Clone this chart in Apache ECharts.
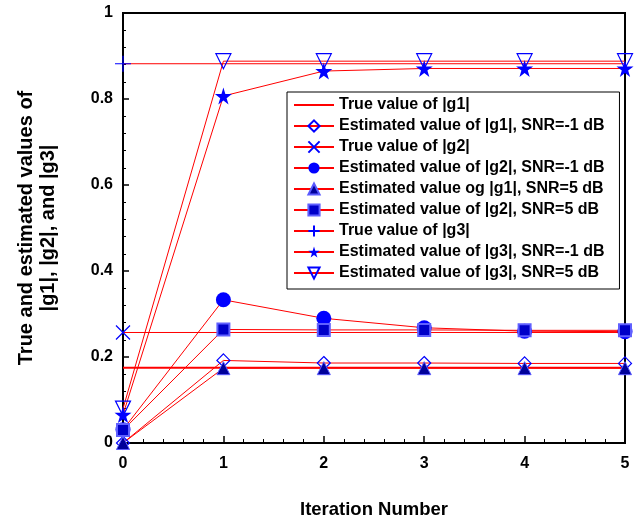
<!DOCTYPE html>
<html><head><meta charset="utf-8">
<script src="https://cdn.jsdelivr.net/npm/echarts@6/dist/echarts.min.js"></script>
<style>html,body{margin:0;padding:0;background:#fff}#c{width:639px;height:521px}</style>
</head><body><div id="c"></div>
<script>
var iterations = [0, 1, 2, 3, 4, 5];
var trueX = [0, 5];
var trueG1 = [0.175, 0.175];
var trueG2 = [0.257, 0.257];
var trueG3 = [0.882, 0.882];
var estG1m1 = [0.0, 0.192, 0.186, 0.186, 0.185, 0.185];
var estG2m1 = [0.031, 0.333, 0.290, 0.268, 0.260, 0.259];
var estG1p5 = [0.0, 0.174, 0.174, 0.174, 0.174, 0.174];
var estG2p5 = [0.030, 0.264, 0.263, 0.263, 0.262, 0.262];
var estG3m1 = [0.066, 0.807, 0.865, 0.871, 0.871, 0.871];
var estG3p5 = [0.080, 0.888, 0.888, 0.888, 0.888, 0.888];
var names = [
  'True value of |g1|',
  'Estimated value of |g1|, SNR=-1 dB',
  'True value of |g2|',
  'Estimated value of |g2|, SNR=-1 dB',
  'Estimated value og |g1|, SNR=5 dB',
  'Estimated value of |g2|, SNR=5 dB',
  'True value of |g3|',
  'Estimated value of |g3|, SNR=-1 dB',
  'Estimated value of |g3|, SNR=5 dB'
];
var yTicks = [0, 0.2, 0.4, 0.6, 0.8, 1];

var FONT = '"Liberation Sans", Arial, sans-serif';
var STAR = 'path://M50,0 L61,35 L98,35 L68,57 L79,91 L50,70 L21,91 L32,57 L2,35 L39,35 Z';
var XMARK = 'path://M0,0L10,10M10,0L0,10';
var PLUS = 'path://M5,0L5,10M0,5L10,5';

function zip(xs, ys) { return xs.map(function (x, i) { return [x, ys[i]]; }); }
function trueData(ys) {
  var d = zip(trueX, ys);
  return d.map(function (p, i) { return i === 0 ? p : { value: p, symbol: 'none' }; });
}
function est(name, ys, symbol, size, item, extra) {
  var s = {
    name: name, type: 'line', data: zip(iterations, ys), symbol: symbol, symbolSize: size,
    showAllSymbol: true, clip: false,
    lineStyle: { color: '#ff0000', width: 1 },
    itemStyle: item
  };
  for (var k in extra) s[k] = extra[k];
  return s;
}

var chart = echarts.init(document.getElementById('c'));
chart.setOption({
  animation: false,
  backgroundColor: '#fff',
  grid: { left: 123, right: 14, top: 13, bottom: 78, show: true, borderColor: '#000', borderWidth: 2,
    containLabel: false, outerBoundsMode: 'none' },
  legend: {
    orient: 'vertical', left: 287, top: 92,
    backgroundColor: '#fff', borderColor: '#000', borderWidth: 1,
    padding: [5, 15, 8, 6], itemWidth: 40, itemHeight: 14, itemGap: 5,
    textStyle: { fontFamily: FONT, fontWeight: 'bold', fontSize: 16, lineHeight: 16, color: '#000' },
    data: names
  },
  xAxis: {
    type: 'value', min: 0, max: 5, interval: 1,
    name: 'Iteration Number', nameLocation: 'middle', nameGap: 57,
    nameTextStyle: { fontFamily: FONT, fontWeight: 'bold', fontSize: 18.5, color: '#000' },
    axisLine: { lineStyle: { color: '#000', width: 2 } },
    axisTick: { inside: true, length: 7, lineStyle: { color: '#000', width: 1.5 } },
    minorTick: { show: true, splitNumber: 5, length: 4, lineStyle: { color: '#000' } },
    splitLine: { show: false },
    axisLabel: { fontFamily: FONT, fontWeight: 'bold', fontSize: 16, color: '#000', margin: 13 }
  },
  yAxis: {
    type: 'value', min: 0, max: 1, interval: 0.2,
    name: 'True and estimated values of\n|g1|, |g2|, and |g3|', nameLocation: 'middle', nameGap: 64,
    nameTextStyle: { fontFamily: FONT, fontWeight: 'bold', fontSize: 20, color: '#000', lineHeight: 21.5 },
    axisLine: { lineStyle: { color: '#000', width: 2 } },
    axisTick: { inside: true, length: 6, lineStyle: { color: '#000', width: 1.5 } },
    minorTick: { show: true, splitNumber: 5, length: 3, lineStyle: { color: '#000' } },
    splitLine: { show: false },
    axisLabel: {
      fontFamily: FONT, fontWeight: 'bold', fontSize: 16, color: '#000', margin: 10,
      formatter: function (v) { return yTicks.indexOf(v) >= 0 ? String(v) : ''; }
    }
  },
  series: [
    { name: names[0], type: 'line', data: zip(trueX, trueG1), symbol: 'none', clip: false,
      lineStyle: { color: '#ff0000', width: 2 }, itemStyle: { color: 'rgba(0,0,0,0)', borderColor: 'rgba(0,0,0,0)' } },
    est(names[1], estG1m1, 'diamond', 13, { color: 'rgba(255,255,255,0)', borderColor: '#0000ff', borderWidth: 1.2 }),
    { name: names[2], type: 'line', data: trueData(trueG2), symbol: XMARK, symbolSize: 14, clip: false,
      lineStyle: { color: '#ff0000', width: 1 }, itemStyle: { color: 'rgba(0,0,0,0)', borderColor: '#0000ff', borderWidth: 1.2 } },
    est(names[3], estG2m1, 'circle', 15, { color: '#0000ff' }),
    est(names[4], estG1p5, 'triangle', 13, { color: '#00009a', borderColor: '#5a5aff', borderWidth: 1 }),
    est(names[5], estG2p5, 'rect', 12, { color: '#0000c8', borderColor: '#6060ff', borderWidth: 2 }),
    { name: names[6], type: 'line', data: trueData(trueG3), symbol: PLUS, symbolSize: 16, clip: false,
      lineStyle: { color: '#ff0000', width: 1 }, itemStyle: { color: 'rgba(0,0,0,0)', borderColor: '#0000ff', borderWidth: 1.2 } },
    est(names[7], estG3m1, STAR, 17, { color: '#0000ff' }),
    est(names[8], estG3p5, 'triangle', 15, { color: 'rgba(255,255,255,0)', borderColor: '#0000ff', borderWidth: 1.2 }, { symbolRotate: 180 })
  ]
});
</script></body></html>
